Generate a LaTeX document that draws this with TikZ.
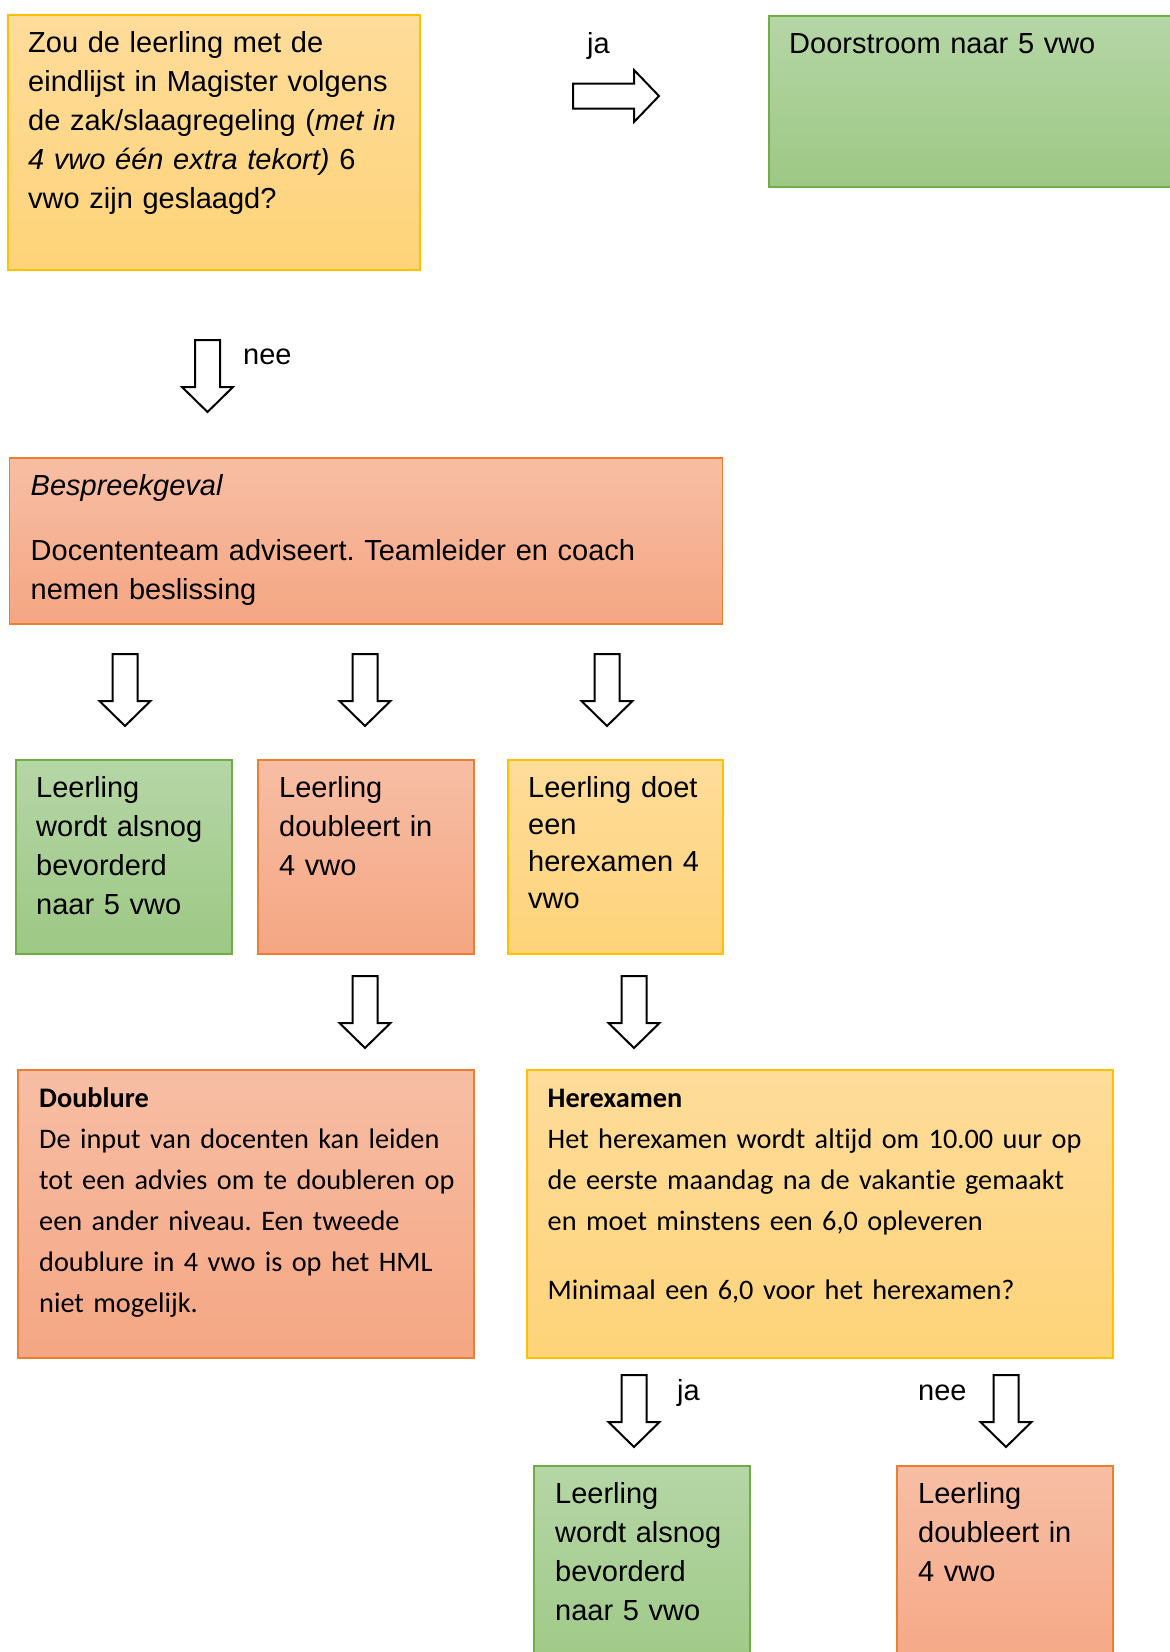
\documentclass[tikz,border=0pt]{standalone}
\usepackage{fontspec}
\setmainfont{Liberation Sans}
\newfontfamily\calibri[Ligatures=NoCommon]{Carlito}
\frenchspacing
\definecolor{greenT}{RGB}{181,214,166}
\definecolor{greenB}{RGB}{157,200,132}
\definecolor{greenL}{RGB}{112,173,71}
\definecolor{redT}{RGB}{247,190,164}
\definecolor{redB}{RGB}{245,166,131}
\definecolor{redL}{RGB}{237,125,49}
\definecolor{yelT}{RGB}{254,220,154}
\definecolor{yelB}{RGB}{254,211,121}
\definecolor{yelL}{RGB}{255,192,0}
\tikzset{
  box/.style={rectangle,anchor=north west,inner sep=0pt,outer sep=0pt,line width=1.2pt},
  greenbox/.style={box,draw=greenL,top color=greenT,bottom color=greenB},
  redbox/.style={box,draw=redL,top color=redT,bottom color=redB},
  yelbox/.style={box,draw=yelL,top color=yelT,bottom color=yelB},
  boxtext/.style={anchor=base west,inner sep=0pt,text width=#1,align=left,font=\fontsize{29}{39}\selectfont},
  boxtext/.default=420pt,
  caltext/.style={anchor=base west,inner sep=0pt,text width=560pt,align=left,font=\calibri\fontsize{28.3}{41}\selectfont},
  lbl/.style={anchor=base west,inner sep=0pt,font=\fontsize{29}{39}\selectfont},
  arrowline/.style={draw=black,fill=white,line width=2pt,line join=miter},
  downarrow/.pic={\path[arrowline](-12.5,0)--(12.5,0)--(12.5,47)--(25.5,47)--(0,72)--(-25.5,47)--(-12.5,47)--cycle;},
  rightarrow/.pic={\path[arrowline](0,-12.5)--(61,-12.5)--(61,-26)--(86,0)--(61,26)--(61,12.5)--(0,12.5)--cycle;}
}
\begin{document}
\begin{tikzpicture}[x=1pt,y=-1pt]
\clip (0,0) rectangle (1170,1652);
\fill[white] (0,0) rectangle (1170,1652);
% vraag en doorstroom
\node[yelbox,minimum width=412pt,minimum height=255pt] (vraag) at (8,15) {};
\node[boxtext] (vraagtxt) at (28,52) {Zou de leerling met de\\eindlijst in Magister volgens\\de zak/slaagregeling (\textit{met in}\\\textit{4 vwo één extra tekort)} 6\\vwo zijn geslaagd?};
\node[lbl] (ja1) at (587,53) {ja};
\pic at (573,96) {rightarrow};
\node[greenbox,minimum width=430pt,minimum height=171pt] (door) at (769,16) {};
\node[boxtext] (doortxt) at (789,53) {Doorstroom naar 5 vwo};
% bespreekgeval
\pic at (207.5,340) {downarrow};
\node[lbl] (nee1) at (243,364) {nee};
\node[redbox,minimum width=713pt,minimum height=166pt] (besp) at (9.5,458) {};
\node[boxtext=690pt] (besptxt) at (30.5,495) {\textit{Bespreekgeval}\\[26pt]Docententeam adviseert. Teamleider en coach\\nemen beslissing};
\foreach \x in {125,365,607} \pic at (\x,654) {downarrow};
\node[greenbox,minimum width=216pt,minimum height=194pt] (alsnog) at (16,760) {};
\node[redbox,minimum width=216pt,minimum height=194pt] (doubl) at (258,760) {};
\node[yelbox,minimum width=215pt,minimum height=194pt] (herex) at (508,760) {};
\node[boxtext=200pt] (alsnogtxt) at (36,797) {Leerling\\wordt alsnog\\bevorderd\\naar 5 vwo};
\node[boxtext=200pt] (doubltxt) at (279,797) {Leerling\\doubleert in\\4 vwo};
\node[boxtext=200pt,font=\fontsize{29}{37}\selectfont] (herextxt) at (528,797) {Leerling doet\\een\\herexamen 4\\vwo};
% doublure en herexamen
\pic at (365,976) {downarrow};
\pic at (634,976) {downarrow};
\node[redbox,minimum width=456pt,minimum height=288pt] (doublure) at (18,1070) {};
\node[caltext] (doubluretxt) at (39,1107) {\textbf{Doublure}\\De input van docenten kan leiden\\tot een advies om te doubleren op\\een ander niveau. Een tweede\\doublure in 4 vwo is op het HML\\niet mogelijk.};
\node[yelbox,minimum width=586pt,minimum height=288pt] (herexamen) at (527,1070) {};
\node[caltext] (herexamentxt) at (547.5,1107) {\textbf{Herexamen}\\Het herexamen wordt altijd om 10.00 uur op\\de eerste maandag na de vakantie gemaakt\\en moet minstens een 6,0 opleveren\\[28pt]Minimaal een 6,0 voor het herexamen?};
% uitslag herexamen
\pic at (634,1375) {downarrow};
\pic at (1006,1375) {downarrow};
\node[lbl] (ja2) at (677,1400) {ja};
\node[lbl] (nee2) at (918,1400) {nee};
\node[greenbox,minimum width=216pt,minimum height=220pt] (bevorderd) at (534,1466) {};
\node[redbox,minimum width=216pt,minimum height=220pt] (blijft) at (897,1466) {};
\node[boxtext=200pt] (bevorderdtxt) at (555,1503) {Leerling\\wordt alsnog\\bevorderd\\naar 5 vwo};
\node[boxtext=200pt] (blijfttxt) at (918,1503) {Leerling\\doubleert in\\4 vwo};
\end{tikzpicture}
\end{document}
